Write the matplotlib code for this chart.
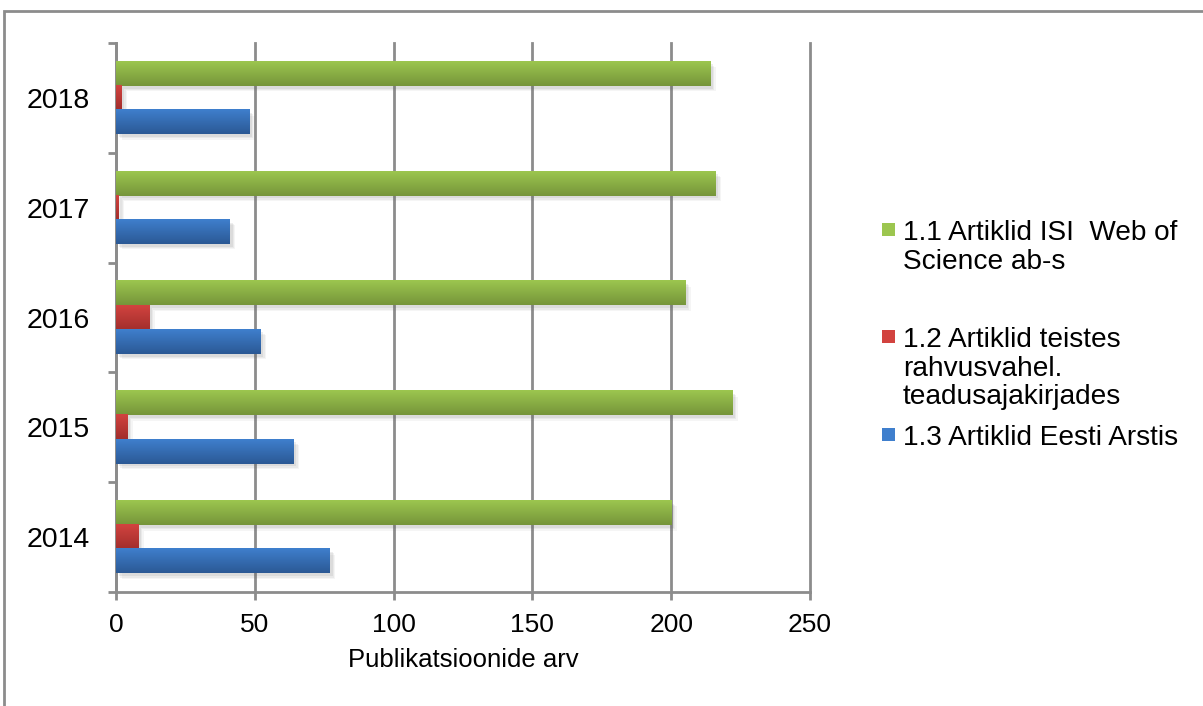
import matplotlib.pyplot as plt
import matplotlib.colors as mcolors
import matplotlib.patheffects as pe
from matplotlib.patches import Rectangle
import numpy as np

# Andmed
aastad = ['2014', '2015', '2016', '2017', '2018']
isi_wos = [200, 222, 205, 216, 214]
teised = [8, 4, 12, 1, 2]
eesti_arst = [77, 64, 52, 41, 48]
nimed = ['1.1 Artiklid ISI  Web of\nScience ab-s',
         '1.2 Artiklid teistes\nrahvusvahel.\nteadusajakirjades',
         '1.3 Artiklid Eesti Arstis']

plt.rcParams['font.family'] = ['Liberation Sans', 'DejaVu Sans']

W, H = 1203, 706
fig = plt.figure(figsize=(W / 100, H / 100), dpi=100)
ax = fig.add_axes([116 / W, 1 - 592 / H, (810 - 116) / W, (592 - 43) / H])

hall = '#8c8c8c'
# (ülemine, alumine) toon gradiendi jaoks
varvid = [('#9cc64f', '#76953a'), ('#d2433f', '#a22e2c'), ('#3f7fcd', '#2b5995')]
seeriad = [isi_wos, teised, eesti_arst]
y = np.arange(len(aastad))
h = 0.22
nihe = [h, 0, -h]


def gradient_bar(yc, laius, c_top, c_bot):
    # pehme vari + gradiendiga tulp
    for k, al in [(4, 0.06), (3, 0.08), (2, 0.10)]:
        ax.add_patch(Rectangle((0, yc - h / 2), laius, h, facecolor='white', edgecolor='none', zorder=2,
                               path_effects=[pe.SimplePatchShadow(offset=(k, -k), shadow_rgbFace='#606060', alpha=al)]))
    t = np.linspace(0, 1, 60)[:, None]
    a = np.array(mcolors.to_rgb(c_top))
    b = np.array(mcolors.to_rgb(c_bot))
    img = (a * (1 - t) + b * t).reshape(60, 1, 3)
    ax.imshow(img, extent=[0, laius, yc - h / 2, yc + h / 2], aspect='auto', zorder=3, interpolation='bilinear')


for s, vals in enumerate(seeriad):
    for i, v in enumerate(vals):
        gradient_bar(y[i] + nihe[s], v, varvid[s][0], varvid[s][1])

ax.set_xlim(0, 250)
ax.set_ylim(-0.5, len(aastad) - 0.5)
ax.set_xticks(np.arange(0, 251, 50))
ax.set_yticks(np.arange(-0.5, len(aastad), 1))
ax.set_yticklabels([])
ax.set_yticks(y, minor=True)
ax.set_yticklabels(aastad, minor=True)

ax.xaxis.grid(True, color=hall, lw=2)
for gl in ax.get_xgridlines():
    gl.set_clip_on(False)
ax.set_axisbelow(True)
for sp in ['top', 'right']:
    ax.spines[sp].set_visible(False)
for sp in ['left', 'bottom']:
    ax.spines[sp].set_color(hall)
    ax.spines[sp].set_linewidth(2)

ax.tick_params(axis='x', direction='out', length=6, width=2, color=hall, labelsize=19, pad=9)
ax.tick_params(axis='y', which='major', direction='out', length=6, width=2, color=hall)
ax.tick_params(axis='y', which='minor', length=0, labelsize=20.5, pad=19)
ax.set_xlabel('Publikatsioonide arv', fontsize=18.5, labelpad=8)

# Legend käsitsi
rida = 28.5
algus = [240, 347, 445]
for k, nimi in enumerate(nimed):
    fig.patches.append(Rectangle((882 / W, 1 - (algus[k] - 4) / H), 13 / W, 13 / H,
                                 transform=fig.transFigure, facecolor=varvid[k][0], edgecolor='none'))
    for j, tekst in enumerate(nimi.split('\n')):
        fig.text(903 / W, 1 - (algus[k] + j * rida) / H, tekst, fontsize=20.2, va='baseline', ha='left')

# Raam
fig.patches.append(Rectangle((4 / W, -0.05), 1.1, 1 - 11 / H + 0.05, transform=fig.transFigure,
                             facecolor='none', edgecolor=hall, lw=2))

fig.savefig('out.png', dpi=100)
